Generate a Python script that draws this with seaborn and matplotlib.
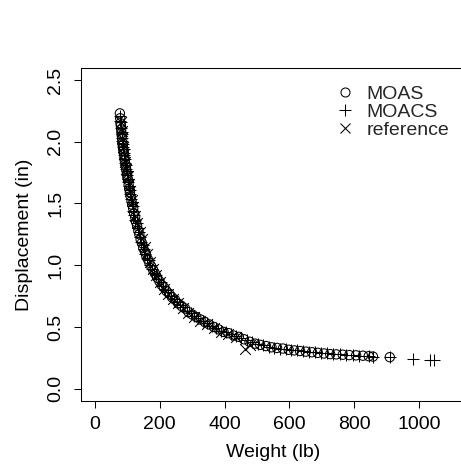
import matplotlib
matplotlib.use("Agg")
import matplotlib.pyplot as plt
from matplotlib.lines import Line2D
import seaborn as sns
import pandas as pd

# ---- data ----
moas_weight = [77, 78, 79, 80, 81, 82, 83, 84, 85, 86, 87, 88, 90, 91, 92, 94,
               95, 97, 99, 100, 102, 104, 106, 108, 110, 113, 115, 118, 121,
               124, 127, 130, 134, 137, 141, 145, 149, 154, 158, 163, 168, 174,
               180, 186, 192, 199, 206, 213, 221, 229, 238, 247, 257, 267, 278,
               289, 301, 313, 326, 339, 353, 367, 382, 397, 412, 428, 444, 460,
               477, 494, 510, 528, 545, 562, 580, 598, 615, 633, 651, 670, 688,
               707, 726, 745, 765, 785, 806, 827, 845, 858, 910]
moas_disp = [2.23, 2.19, 2.15, 2.13, 2.10, 2.07, 2.05, 2.02, 1.99, 1.97, 1.95,
             1.93, 1.90, 1.87, 1.85, 1.82, 1.80, 1.77, 1.74, 1.71, 1.69, 1.65,
             1.62, 1.59, 1.56, 1.52, 1.49, 1.46, 1.42, 1.39, 1.35, 1.32, 1.28,
             1.25, 1.21, 1.18, 1.14, 1.11, 1.08, 1.05, 1.02, 0.99, 0.96, 0.93,
             0.90, 0.87, 0.84, 0.82, 0.79, 0.77, 0.74, 0.72, 0.69, 0.67, 0.65,
             0.62, 0.60, 0.58, 0.56, 0.54, 0.52, 0.50, 0.48, 0.46, 0.45, 0.43,
             0.42, 0.40, 0.38, 0.365, 0.355, 0.345, 0.335, 0.33, 0.325, 0.315,
             0.31, 0.305, 0.30, 0.295, 0.29, 0.285, 0.28, 0.278, 0.275, 0.272,
             0.27, 0.267, 0.263, 0.26, 0.255]

moacs_weight = [76, 78, 79, 80, 82, 83, 84, 85, 86, 87, 89, 90, 91, 93, 94, 96,
                97, 98, 100, 101, 103, 105, 107, 109, 112, 114, 117, 119, 122,
                125, 129, 132, 135, 139, 143, 147, 151, 156, 161, 166, 171, 177,
                183, 189, 196, 203, 210, 217, 225, 234, 243, 252, 262, 272, 283,
                295, 307, 319, 332, 346, 360, 374, 389, 405, 420, 436, 452, 468,
                486, 502, 519, 537, 553, 571, 589, 606, 624, 642, 660, 679, 697,
                716, 736, 755, 775, 795, 816, 845, 858, 910, 981, 1035, 1046]
moacs_disp = [2.21, 2.17, 2.16, 2.11, 2.08, 2.06, 2.03, 2.01, 1.98, 1.96, 1.94,
              1.91, 1.89, 1.86, 1.83, 1.81, 1.78, 1.76, 1.73, 1.70, 1.67, 1.64,
              1.61, 1.58, 1.54, 1.51, 1.48, 1.44, 1.41, 1.37, 1.34, 1.30, 1.27,
              1.23, 1.19, 1.16, 1.13, 1.09, 1.06, 1.04, 1.00, 0.97, 0.94, 0.92,
              0.89, 0.86, 0.83, 0.80, 0.78, 0.75, 0.73, 0.70, 0.68, 0.66, 0.63,
              0.61, 0.59, 0.57, 0.55, 0.53, 0.51, 0.49, 0.47, 0.455, 0.44, 0.425,
              0.41, 0.395, 0.375, 0.36, 0.35, 0.34, 0.33, 0.325, 0.32, 0.315,
              0.31, 0.305, 0.30, 0.295, 0.29, 0.285, 0.28, 0.277, 0.274, 0.271,
              0.268, 0.263, 0.26, 0.253, 0.24, 0.235, 0.235]

ref_weight = [79, 82, 85, 88, 91, 94, 97, 101, 105, 109, 114, 119, 125, 131,
              138, 145, 153, 161, 170, 180, 190, 201, 213, 226, 240, 255, 271,
              288, 306, 325, 345, 366, 388, 411, 435, 463, 478]
ref_disp = [2.16, 2.09, 2.03, 1.96, 1.90, 1.84, 1.78, 1.72, 1.66, 1.60, 1.53,
            1.47, 1.40, 1.34, 1.27, 1.21, 1.15, 1.09, 1.03, 0.97, 0.92, 0.86,
            0.81, 0.77, 0.73, 0.69, 0.65, 0.61, 0.58, 0.55, 0.52, 0.49, 0.46,
            0.44, 0.42, 0.32, 0.35]

series_labels = ["MOAS", "MOACS", "reference"]
x_ticks = [0, 200, 400, 600, 800, 1000]
y_ticks = [0.0, 0.5, 1.0, 1.5, 2.0, 2.5]
x_lim = (0, 1100)
y_lim = (0.0, 2.5)

# ---- figure ----
sns.set_theme(style="white")
plt.rcParams["font.family"] = ["Liberation Sans", "DejaVu Sans"]
FS = 14

fig = plt.figure(figsize=(4.61, 4.72), dpi=100)
ax = fig.add_axes([0.175, 0.1504, 0.835, 0.7062])

df_moas = pd.DataFrame({"w": moas_weight, "d": moas_disp})
df_moacs = pd.DataFrame({"w": moacs_weight, "d": moacs_disp})
df_ref = pd.DataFrame({"w": ref_weight, "d": ref_disp})

sns.scatterplot(data=df_moas, x="w", y="d", ax=ax, marker="o", s=45,
                facecolors="none", edgecolor="black", linewidth=0.75)
sns.scatterplot(data=df_moacs, x="w", y="d", ax=ax, marker="+", s=85,
                color="black", linewidth=0.75)
sns.scatterplot(data=df_ref, x="w", y="d", ax=ax, marker="x", s=60,
                color="black", linewidth=0.75)

# R-like 4% expansion
xr = x_lim[1] - x_lim[0]
yr = y_lim[1] - y_lim[0]
ax.set_xlim(x_lim[0] - 0.04 * xr, x_lim[1] + 0.04 * xr)
ax.set_ylim(y_lim[0] - 0.04 * yr, y_lim[1] + 0.04 * yr)

ax.set_xticks(x_ticks)
ax.set_xticklabels([str(v) for v in x_ticks])
ax.set_yticks(y_ticks)
ax.set_yticklabels([f"{v:.1f}" for v in y_ticks], rotation=90, va="center")

ax.tick_params(axis="both", direction="out", length=5, width=0.75,
               color="black", labelsize=FS, labelcolor="black",
               bottom=True, left=True)
ax.tick_params(axis="x", pad=6)
ax.tick_params(axis="y", pad=7)
for sp in ax.spines.values():
    sp.set_color("black")
    sp.set_linewidth(0.75)

ax.set_xlabel("Weight (lb)", fontsize=FS, color="black", labelpad=8)
ax.set_ylabel("Displacement (in)", fontsize=FS, color="black", labelpad=10)

handles = [
    Line2D([], [], marker="o", linestyle="none", markerfacecolor="none",
           markeredgecolor="black", markersize=6.5, markeredgewidth=0.75),
    Line2D([], [], marker="+", linestyle="none", color="black",
           markersize=9, markeredgewidth=0.75),
    Line2D([], [], marker="x", linestyle="none", color="black",
           markersize=6.5, markeredgewidth=0.75),
]
ax.legend(handles, series_labels, loc="upper left",
          bbox_to_anchor=(336 / 461, 1 - 85 / 472),
          bbox_transform=fig.transFigure, frameon=False, fontsize=FS,
          handlelength=0.9, handletextpad=0.68, labelspacing=0.02,
          borderpad=0, borderaxespad=0)

fig.savefig("out.png", dpi=100)
